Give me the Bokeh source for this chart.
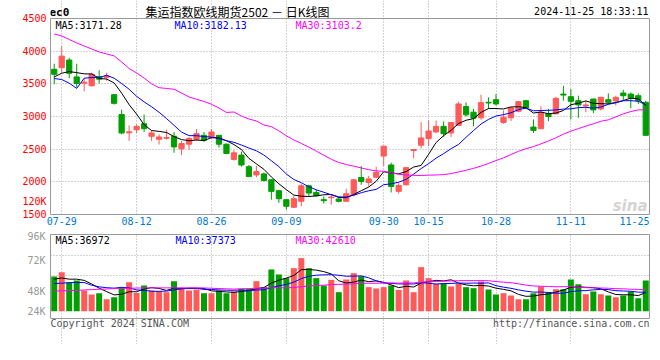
from bokeh.plotting import figure
from bokeh.layouts import column
from bokeh.models import Range1d, FixedTicker, Label, ColumnDataSource, LinearAxis, Span
from bokeh.embed import file_html
from bokeh.resources import INLINE

# ---------------- data ----------------
dates = ["07-26",
         "07-29", "07-30", "07-31", "08-01", "08-02",
         "08-05", "08-06", "08-07", "08-08", "08-09",
         "08-12", "08-13", "08-14", "08-15", "08-16",
         "08-19", "08-20", "08-21", "08-22", "08-23",
         "08-26", "08-27", "08-28", "08-29", "08-30",
         "09-02", "09-03", "09-04", "09-05", "09-06",
         "09-09", "09-10", "09-11", "09-12", "09-13",
         "09-18", "09-19", "09-20",
         "09-23", "09-24", "09-25", "09-26", "09-27",
         "09-30",
         "10-08", "10-09", "10-10", "10-11",
         "10-14", "10-15", "10-16", "10-17", "10-18",
         "10-21", "10-22", "10-23", "10-24", "10-25",
         "10-28", "10-29", "10-30", "10-31", "11-01",
         "11-04", "11-05", "11-06", "11-07", "11-08",
         "11-11", "11-12", "11-13", "11-14", "11-15",
         "11-18", "11-19", "11-20", "11-21", "11-22",
         "11-25"]

opens = [3722, 3748, 3864, 3606, 3510, 3470, 3611, 3600, 3333, 3030,
         2750, 2798, 2889, 2697, 2652, 2667, 2697, 2505, 2576, 2652,
         2712, 2672, 2712, 2576, 2343, 2409, 2232, 2106, 2121, 2030,
         1864, 1727, 1611, 1702, 1939, 1838, 1727, 1758, 1737, 1702,
         1803, 2066, 1990, 2071, 2394, 2258, 1854, 1955, 2480, 2561,
         2662, 2763, 2849, 2748, 2864, 3152, 3066, 2980, 3217, 3258,
         2909, 2980, 3081, 3242, 2838, 2813, 3040, 3040, 3343, 3303,
         3242, 3162, 3268, 3116, 3258, 3242, 3359, 3343, 3318, 3217]
highs = [3808, 4076, 3899, 3808, 3586, 3672, 3707, 3672, 3343, 3106,
         2864, 2879, 3030, 2788, 2727, 2798, 2763, 2627, 2687, 2808,
         2763, 2808, 2712, 2586, 2485, 2460, 2258, 2243, 2142, 2040,
         1879, 1727, 1788, 1970, 1955, 1879, 1778, 1803, 1753, 1894,
         2040, 2243, 2091, 2232, 2546, 2293, 1980, 2217, 2495, 2914,
         2939, 2939, 2924, 2909, 3227, 3217, 3116, 3333, 3293, 3343,
         3091, 3141, 3227, 3253, 2955, 3157, 3116, 3303, 3470, 3419,
         3318, 3242, 3268, 3303, 3354, 3318, 3409, 3369, 3354, 3242]
lows = [3495, 3672, 3586, 3444, 3384, 3460, 3505, 3545, 3182, 2728,
        2627, 2748, 2763, 2627, 2571, 2647, 2445, 2409, 2485, 2627,
        2611, 2657, 2525, 2424, 2323, 2232, 2081, 2071, 2005, 1727,
        1677, 1576, 1601, 1626, 1778, 1778, 1667, 1652, 1687, 1702,
        1778, 1955, 1929, 2056, 2243, 1838, 1818, 1945, 2359, 2510,
        2546, 2748, 2687, 2687, 2864, 3000, 2849, 2950, 3116, 3167,
        2889, 2929, 3066, 3116, 2748, 2813, 2929, 3040, 3242, 2955,
        2980, 3066, 3050, 3091, 3192, 3167, 3242, 3126, 3192, 2712]
closes = [3646, 3924, 3662, 3505, 3525, 3646, 3571, 3620, 3202, 2748,
          2765, 2849, 2813, 2748, 2687, 2677, 2535, 2586, 2662, 2737,
          2636, 2763, 2576, 2434, 2444, 2258, 2081, 2157, 2020, 1854,
          1742, 1626, 1742, 1939, 1828, 1788, 1712, 1768, 1702, 1818,
          2030, 2005, 2045, 2147, 2546, 1929, 1945, 2217, 2495, 2672,
          2778, 2849, 2737, 2909, 3192, 3025, 2975, 3212, 3207, 3192,
          2990, 3131, 3227, 3131, 2788, 3066, 3000, 3278, 3328, 3232,
          3177, 3177, 3101, 3293, 3217, 3293, 3318, 3283, 3242, 2712]
volumes = [69000, 77600, 57700, 61100, 41200, 33200, 35800, 23900, 27900, 47800,
           57700, 36400, 51100, 41200, 39800, 37800, 59700, 46400, 41200, 43200,
           35800, 35800, 41200, 35800, 39200, 44400, 44400, 59700, 47800, 83000,
           73000, 65700, 85600, 105500, 85600, 65700, 51100, 62300, 37800, 63100,
           75600, 69700, 47800, 45200, 47800, 51100, 42400, 61100, 37800, 87600,
           65700, 54300, 55700, 49200, 54300, 47800, 45800, 59100, 43200, 33200,
           35800, 31200, 23900, 23900, 35800, 49200, 37800, 43800, 43800, 63100,
           53700, 33800, 39200, 33800, 31200, 27900, 31200, 39200, 25900, 61100]

# moving-average values before enough history is on the chart
ma5_head = [3606, 3662, 3687, 3672]
ma10_head = [3581, 3566, 3510, 3430, 3586, 3596, 3596, 3631, 3586]
ma30_head = [4263, 4233, 4179, 4126, 4080, 4034, 3988, 3957, 3927, 3835,
             3735, 3666, 3589, 3498, 3441, 3429, 3417, 3360, 3299, 3264,
             3230, 3187, 3130, 3062, 3069, 3008, 2962, 2931, 2870]
vma5_head = [63700, 66000, 63700, 63700]
vma10_head = [55000, 55700, 56700, 57000, 57000, 51700, 48400, 46800, 45800]
vma30_head = [40000, 40500, 41000, 41500, 42200, 43000, 43600, 44200, 45000, 45400,
              45700, 46000, 46300, 46400, 46400, 46400, 46400, 46400, 46400, 46400,
              46200, 45600, 45000, 44500, 44000, 44500, 45000, 45500, 46000]

price_ticks = [1500, 2000, 2500, 3000, 3500, 4000, 4500]
extra_price_label = (1696, "120K")
tick_dates = ["07-29", "08-12", "08-26", "09-09", "09-30", "10-15", "10-28", "11-11"]
vol_tick_values = [0, 40000, 100000, 151500]
vol_tick_labels = ["24K", "48K", "72K", "96K"]
vol_box = (-14500, 152500)

title_text = "集运指数欧线期货2502 － 日K线图"
symbol_text = "ec0"
time_text = "2024-11-25 18:33:11"
ma_texts = ["MA5:3171.28", "MA10:3182.13", "MA30:3103.2"]
vma_texts = ["MA5:36972", "MA10:37373", "MA30:42610"]
copyright_text = "Copyright 2024 SINA.COM"
url_text = "http://finance.sina.com.cn"


def sma(vals, n, head):
    out = list(head)
    for i in range(len(head), len(vals)):
        out.append(sum(vals[i - n + 1:i + 1]) / n)
    return out


n = len(dates)
idx = list(range(n))
RED = "#FF5A5A"
GREEN = "#009E00"
MA_COLORS = ["#000000", "#0000FF", "#FF00FF"]
FONT = "DejaVu Sans Mono"
GRID = "#A8A8A8"
BORDER = "#999999"

# geometry (pixels)
W = 652
LEFT, RIGHT = 50, 3
FRAME_W = W - LEFT - RIGHT
P_HEAD, P_BOX, P_BOTTOM = 18, 196, 16      # header strip, price box, date-label strip
V_TOP, V_BOX, V_FOOT = 4, 84, 26           # gap, volume box, footer strip

colors = [RED if c >= o else GREEN for o, c in zip(opens, closes)]
src = ColumnDataSource(dict(
    x=idx, o=opens, h=highs, l=lows, c=closes,
    top=[max(o, c) for o, c in zip(opens, closes)],
    bot=[min(o, c) for o, c in zip(opens, closes)],
    color=colors, vol=volumes,
    ma5=sma(closes, 5, ma5_head), ma10=sma(closes, 10, ma10_head), ma30=sma(closes, 30, ma30_head),
    vma5=sma(volumes, 5, vma5_head), vma10=sma(volumes, 10, vma10_head), vma30=sma(volumes, 30, vma30_head),
))

tick_idx = [dates.index(d) for d in tick_dates]
xr = Range1d(-0.5, n - 0.5)
px_per_idx = FRAME_W / n
# last date label is kept inside the box (right aligned at the border)
last_tick = xr.end - (len(dates[-1]) * 6.02 / 2) / px_per_idx


def blank_axis(bounds=None):
    ax = LinearAxis(ticker=FixedTicker(ticks=[]), axis_line_color=BORDER, axis_line_width=1,
                    major_tick_out=0, major_tick_in=0, minor_tick_out=0, minor_tick_in=0,
                    major_label_standoff=0, major_label_text_font_size="0px")
    if bounds is not None:
        ax.bounds = bounds
    return ax


def style_grid(g):
    g.grid_line_color = GRID
    g.grid_line_dash = "1 2"
    g.grid_line_width = 1


# ---------------- price panel ----------------
p_lo, p_hi = price_ticks[0], price_ticks[-1]
p_scale = (p_hi - p_lo) / P_BOX
p = figure(width=W, height=P_HEAD + P_BOX + P_BOTTOM, x_range=xr,
           y_range=Range1d(p_lo, p_hi + P_HEAD * p_scale),
           output_backend="svg", toolbar_location=None,
           min_border_left=LEFT, min_border_right=RIGHT, min_border_top=0, min_border_bottom=P_BOTTOM)
p.background_fill_color = "white"
p.border_fill_color = "white"
p.outline_line_color = None

bx = p.below[0]
bx.ticker = FixedTicker(ticks=tick_idx + [last_tick])
ov = {i: dates[i] for i in tick_idx}
ov[last_tick] = dates[-1]
bx.major_label_overrides = ov
bx.major_label_text_color = "#0078D7"
bx.major_label_text_font = FONT
bx.major_label_text_font_size = "10px"
bx.major_label_standoff = 2
bx.axis_line_color = BORDER
bx.major_tick_out = 0
bx.major_tick_in = 0
bx.minor_tick_out = 0
bx.minor_tick_in = 0

ly = p.left[0]
ly.ticker = FixedTicker(ticks=price_ticks + [extra_price_label[0]])
ly.major_label_overrides = {extra_price_label[0]: extra_price_label[1]}
ly.bounds = (p_lo, p_hi)
ly.major_label_text_color = "#FF0000"
ly.major_label_text_font = FONT
ly.major_label_text_font_size = "10px"
ly.major_label_standoff = 4
ly.axis_line_color = BORDER
ly.major_tick_out = 0
ly.major_tick_in = 0
ly.minor_tick_out = 0
ly.minor_tick_in = 0
p.add_layout(blank_axis((p_lo, p_hi)), "right")
p.add_layout(Span(location=p_hi, dimension="width", line_color=BORDER, line_width=1))

p.xgrid.ticker = FixedTicker(ticks=tick_idx)
p.xgrid.bounds = (p_lo, p_hi)
p.ygrid.ticker = FixedTicker(ticks=price_ticks[1:-1])
style_grid(p.xgrid)
style_grid(p.ygrid)

p.segment(x0="x", y0="l", x1="x", y1="h", source=src, line_color="color", line_width=1)
p.vbar(x="x", width=0.7, top="top", bottom="bot", source=src, fill_color="color", line_color="color",
       line_width=1)
for key, col in zip(["ma5", "ma10", "ma30"], MA_COLORS):
    p.line(x="x", y=key, source=src, line_color=col, line_width=1)

lab_kw = dict(text_font=FONT, text_font_size="10px")
for txt, col, off in zip(ma_texts, MA_COLORS, [5, 124, 245]):
    p.add_layout(Label(x=xr.start, y=p_hi, x_offset=off, y_offset=-1, text=txt,
                       text_color=col, text_align="left", text_baseline="top", **lab_kw))

p.add_layout(Label(x=xr.start, y=p.y_range.end, x_offset=-1, y_offset=-5, text=symbol_text,
                   text_color="#000000", text_align="left", text_baseline="top",
                   text_font=FONT, text_font_size="11px", text_font_style="bold"))
p.add_layout(Label(x=xr.start, y=p.y_range.end, x_offset=187, y_offset=-2, text=title_text,
                   text_color="#000000", text_align="center", text_baseline="top",
                   text_font="Noto Sans CJK SC", text_font_size="12px"))
p.add_layout(Label(x=xr.end, y=p.y_range.end, x_offset=-1, y_offset=-5, text=time_text,
                   text_color="#000000", text_align="right", text_baseline="top", **lab_kw))
p.add_layout(Label(x=xr.end, y=p_lo, x_offset=-2, y_offset=9, text="sina",
                   text_color="#D4D4D4", text_align="right", text_baseline="alphabetic",
                   text_font="DejaVu Sans", text_font_size="15px", text_font_style="bold italic"))

# ---------------- volume panel ----------------
v_lo, v_hi = vol_box
v_scale = (v_hi - v_lo) / V_BOX
v = figure(width=W, height=V_TOP + V_BOX + V_FOOT, x_range=xr,
           y_range=Range1d(v_lo - V_FOOT * v_scale, v_hi),
           output_backend="svg", toolbar_location=None,
           min_border_left=LEFT, min_border_right=RIGHT, min_border_top=V_TOP, min_border_bottom=0)
v.background_fill_color = "white"
v.border_fill_color = "white"
v.outline_line_color = None
v.xaxis.visible = False

vy = v.left[0]
vy.ticker = FixedTicker(ticks=vol_tick_values)
vy.major_label_overrides = dict(zip(vol_tick_values, vol_tick_labels))
vy.bounds = (v_lo, v_hi)
vy.major_label_text_color = "#999999"
vy.major_label_text_font = FONT
vy.major_label_text_font_size = "10px"
vy.major_label_standoff = 5
vy.axis_line_color = BORDER
vy.major_tick_out = 0
vy.major_tick_in = 0
vy.minor_tick_out = 0
vy.minor_tick_in = 0
v.add_layout(blank_axis((v_lo, v_hi)), "right")
v.add_layout(blank_axis(), "above")
v.add_layout(Span(location=v_lo, dimension="width", line_color=BORDER, line_width=1))

v.xgrid.ticker = FixedTicker(ticks=tick_idx)
v.xgrid.bounds = (v_lo, v_hi)
v.ygrid.ticker = FixedTicker(ticks=[v_hi - (v_hi - v_lo) * 0.25, v_hi - (v_hi - v_lo) * 0.49])
style_grid(v.xgrid)
style_grid(v.ygrid)

v.vbar(x="x", width=0.8, top="vol", bottom=0, source=src, fill_color="color", line_color=None)
for key, col in zip(["vma5", "vma10", "vma30"], MA_COLORS):
    v.line(x="x", y=key, source=src, line_color=col, line_width=1)

for txt, col, off in zip(vma_texts, MA_COLORS, [5, 125, 245]):
    v.add_layout(Label(x=xr.start, y=v_hi, x_offset=off, y_offset=0, text=txt,
                       text_color=col, text_align="left", text_baseline="top", **lab_kw))

v.add_layout(Label(x=xr.start, y=v_lo, x_offset=0, y_offset=1, text=copyright_text,
                   text_color="#555555", text_align="left", text_baseline="top", **lab_kw))
v.add_layout(Label(x=xr.end, y=v_lo, x_offset=0, y_offset=1, text=url_text,
                   text_color="#555555", text_align="right", text_baseline="top", **lab_kw))

layout = column(p, v, spacing=0)
open("out.html", "w").write(file_html(layout, INLINE))
